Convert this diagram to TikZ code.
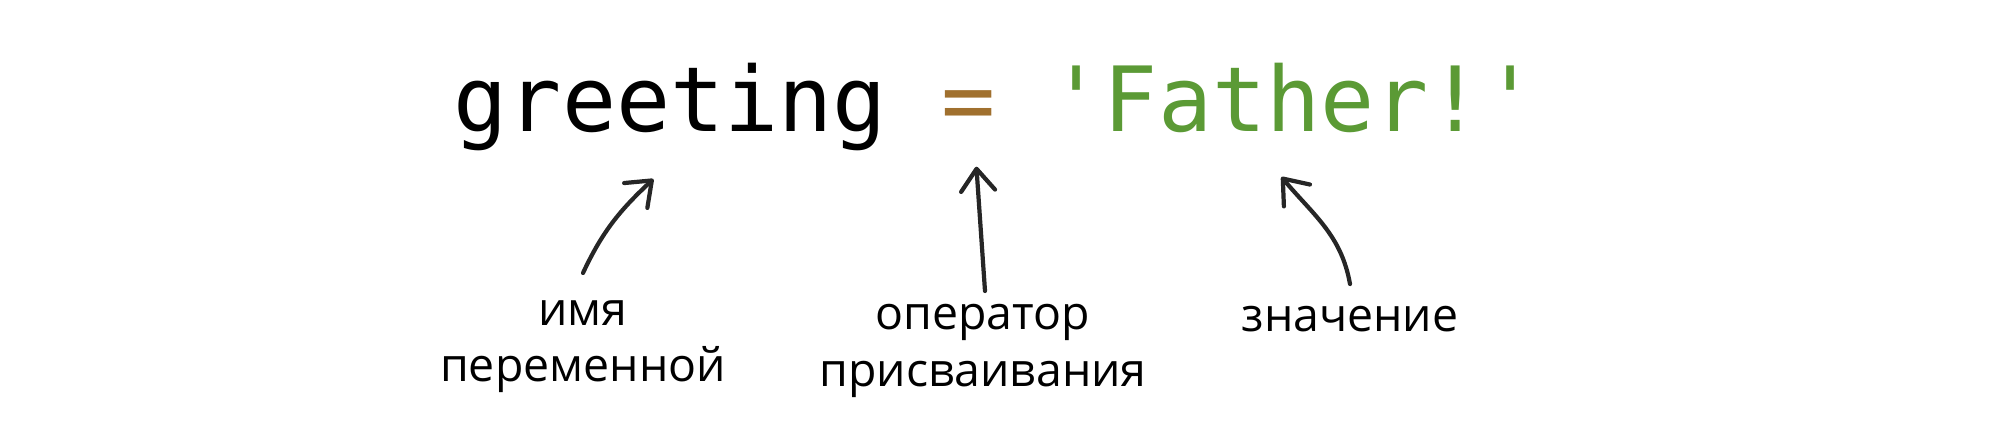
\documentclass[tikz,border=0pt]{standalone}
\usepackage{fontspec}
\setmainfont{Open Sans}
\setmonofont{DejaVu Sans Mono}
\usepackage{tikz}
\usetikzlibrary{arrows.meta,positioning}
\definecolor{opbrown}{HTML}{A0702E}
\definecolor{strgreen}{HTML}{5B9A35}

\begin{document}
\begin{tikzpicture}
    [
      code/.style = {inner sep=0, anchor=base west, font=\ttfamily\fontsize{25.6}{30}\selectfont},
      note/.style = {inner sep=0, anchor=north, align=center, font=\fontsize{13.2}{16}\selectfont},
      pointer/.style = {line width=1.2pt, line cap=round, draw=black!85,
        -{Straight Barb[length=2.2mm,width=3.4mm,line cap=round,line join=round]}},
    ]
    \useasboundingbox (0,0) rectangle (20,4.47);

    \node[code](greeting) at (4.53,3.16) {greeting};
    \node[code,text=opbrown](eq) at (4.53+9*0.5418,3.16) {=};
    \node[code,text=strgreen](str) at (4.53+11*0.5418,3.16) {'Father!'};

    \node[note](var) at (5.83,1.47) {имя\\переменной};
    \node[note](op) at (9.83,1.43) {оператор\\присваивания};
    \node[note](val) at (13.50,1.41) {значение};

    \draw[pointer] ([yshift=2.7mm]var.north) to[out=65,in=-137] ([xshift=-1.7mm,yshift=-2.8mm]greeting.south);
    \draw[pointer] ([xshift=0.2mm,yshift=1.3mm]op.north) -- ([xshift=0.8mm,yshift=-3.5mm]eq.south);
    \draw[pointer] ([yshift=2.2mm]val.north) to[out=100,in=-50] ([xshift=-1.2mm,yshift=-4.4mm]str.south);
  \end{tikzpicture}
\end{document}
